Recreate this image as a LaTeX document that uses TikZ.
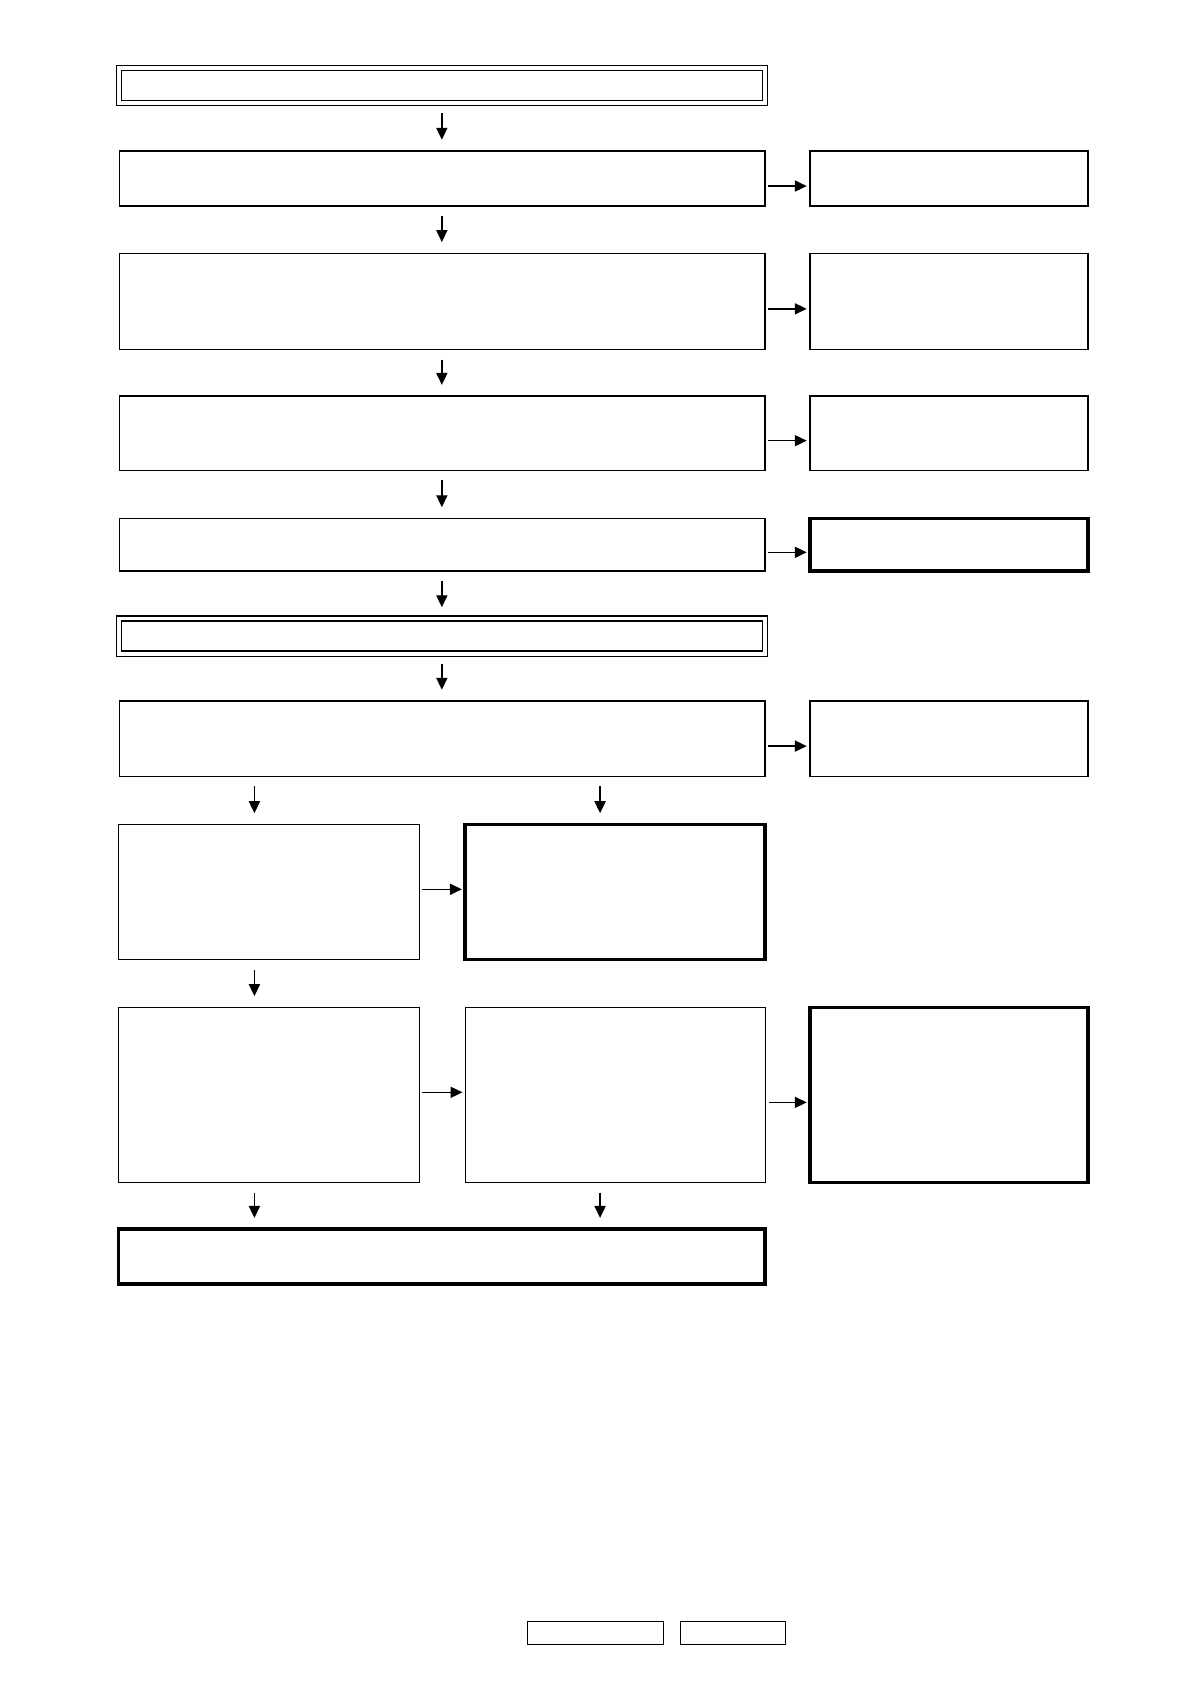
\documentclass[tikz,border=0pt]{standalone}
\usetikzlibrary{arrows.meta}

% one unit of the grid below
\newcommand{\dunit}{0.018944cm}

\tikzset{
	box/.style={draw=black, line width=0.65pt, fill=white, inner sep=0pt,
	outer sep=0pt},
	boxthick/.style={box, line width=1.7pt},
	boxdouble/.style={box, double, double distance=1.9pt},
	flow/.style={-{Triangle[length=6pt,width=5.6pt]}, line width=0.65pt,
	shorten <=9.5*\dunit, shorten >=10.5*\dunit},
	side/.style={flow, shorten <=3*\dunit, shorten >=3*\dunit},
}

\begin{document}
\begin{tikzpicture}[x=\dunit, y=-\dunit]
	% Seite
	\fill[white] (0, 0) rectangle (1108.5, 1568.7);
	\coordinate (colL) at (237, 0);
	\coordinate (colM) at (411.6, 0);
	\coordinate (colR) at (559, 0);

	% Hauptspalte
	\node[boxdouble, minimum width=601.9*\dunit, minimum height=32.6*\dunit]
	(head) at (411.65, 79.5) {};
	\node[box, minimum width=601.5*\dunit, minimum height=51.2*\dunit]
	(stepA) at (411.9, 166.3) {};
	\node[box, minimum width=601.5*\dunit, minimum height=89.4*\dunit]
	(stepB) at (411.9, 280.7) {};
	\node[box, minimum width=601.5*\dunit, minimum height=69*\dunit]
	(stepC) at (411.9, 403.5) {};
	\node[box, minimum width=601.5*\dunit, minimum height=49*\dunit]
	(stepD) at (411.9, 507.5) {};
	\node[boxdouble, minimum width=601.9*\dunit, minimum height=32.7*\dunit]
	(mid) at (411.65, 592.5) {};
	\node[box, minimum width=601.5*\dunit, minimum height=70*\dunit]
	(stepE) at (411.9, 688) {};

	% rechte Spalte
	\node[box, minimum width=259*\dunit, minimum height=51.2*\dunit]
	(outA) at (884, 166.3) {};
	\node[box, minimum width=259*\dunit, minimum height=89.4*\dunit]
	(outB) at (884, 280.7) {};
	\node[box, minimum width=259*\dunit, minimum height=69*\dunit]
	(outC) at (884, 403.5) {};
	\node[boxthick, minimum width=259*\dunit, minimum height=49*\dunit]
	(outD) at (884, 507.5) {};
	\node[box, minimum width=259*\dunit, minimum height=70*\dunit]
	(outE) at (884, 688) {};

	% untere Zweige
	\node[box, minimum width=280*\dunit, minimum height=126*\dunit]
	(leftA) at (250.5, 831) {};
	\node[boxthick, minimum width=279.4*\dunit, minimum height=126*\dunit]
	(rightA) at (572.9, 831) {};
	\node[box, minimum width=280*\dunit, minimum height=163*\dunit]
	(leftB) at (250.5, 1019.9) {};
	\node[box, minimum width=279.4*\dunit, minimum height=163*\dunit]
	(rightB) at (573.5, 1019.9) {};
	\node[boxthick, minimum width=259*\dunit, minimum height=163*\dunit]
	(outF) at (884, 1019.9) {};
	\node[boxthick, minimum width=602*\dunit, minimum height=51*\dunit]
	(final) at (411.5, 1170.5) {};

	% Fusszeile
	\node[box, minimum width=126.7*\dunit, minimum height=21.4*\dunit]
	(footA) at (554.5, 1521) {};
	\node[box, minimum width=98.2*\dunit, minimum height=21.4*\dunit]
	(footB) at (682.8, 1521) {};

	% Pfeile nach unten
	\draw[flow] (head.south -| colM) -- (stepA.north -| colM);
	\draw[flow] (stepA.south -| colM) -- (stepB.north -| colM);
	\draw[flow] (stepB.south -| colM) -- (stepC.north -| colM);
	\draw[flow] (stepC.south -| colM) -- (stepD.north -| colM);
	\draw[flow] (stepD.south -| colM) -- (mid.north -| colM);
	\draw[flow] (mid.south -| colM) -- (stepE.north -| colM);
	\draw[flow] (stepE.south -| colL) -- (leftA.north -| colL);
	\draw[flow] (stepE.south -| colR) -- (rightA.north -| colR);
	\draw[flow] (leftA.south -| colL) -- (leftB.north -| colL);
	\draw[flow] (leftB.south -| colL) -- (final.north -| colL);
	\draw[flow] (rightB.south -| colR) -- (final.north -| colR);

	% Pfeile nach rechts
	\draw[side] ([yshift=-7*\dunit]stepA.east) -- ([yshift=-7*\dunit]outA.west);
	\draw[side] ([yshift=-7*\dunit]stepB.east) -- ([yshift=-7*\dunit]outB.west);
	\draw[side] ([yshift=-7*\dunit]stepC.east) -- ([yshift=-7*\dunit]outC.west);
	\draw[side] ([yshift=-7*\dunit]stepD.east) -- ([yshift=-7*\dunit]outD.west);
	\draw[side] ([yshift=-7*\dunit]stepE.east) -- ([yshift=-7*\dunit]outE.west);
	\draw[side] ([yshift=2.6*\dunit]leftA.east) -- ([yshift=2.6*\dunit]rightA.west);
	\draw[side] ([yshift=2.4*\dunit]leftB.east) -- ([yshift=2.4*\dunit]rightB.west);
	\draw[side] ([yshift=-7*\dunit]rightB.east) -- ([yshift=-7*\dunit]outF.west);
\end{tikzpicture}
\end{document}
